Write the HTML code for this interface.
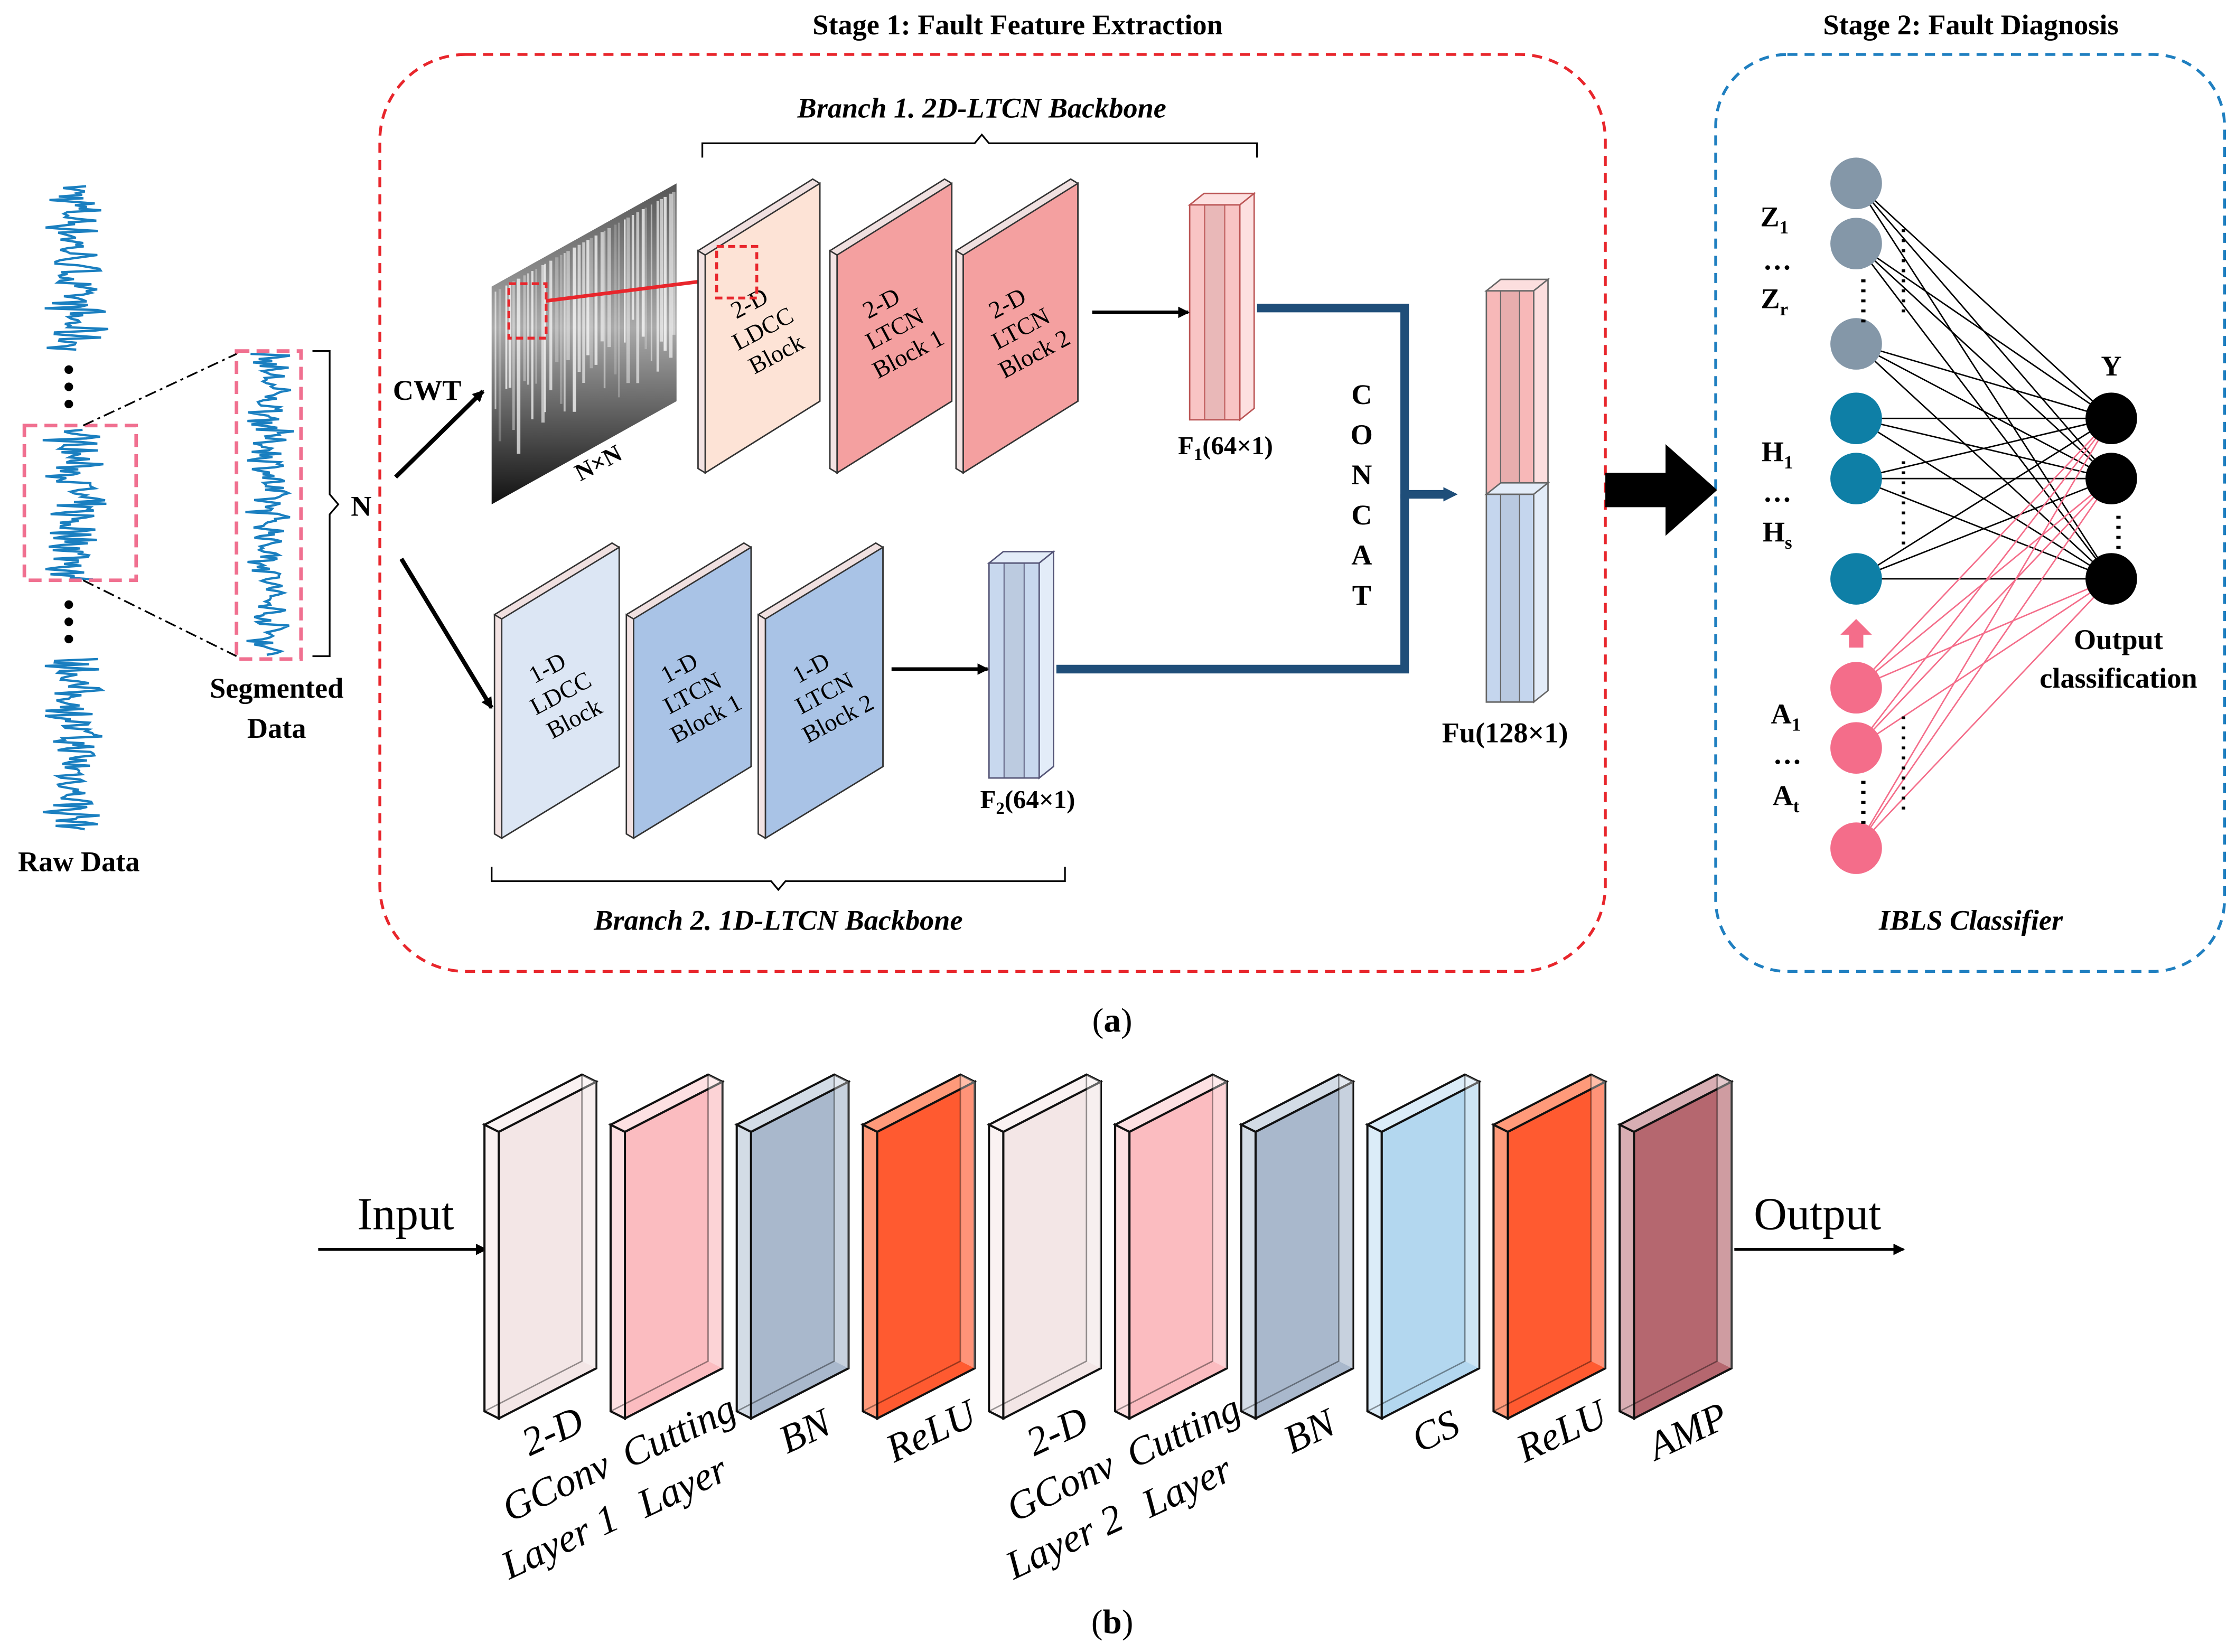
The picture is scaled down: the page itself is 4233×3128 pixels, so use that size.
<!DOCTYPE html>
<html><head><meta charset="utf-8"><style>
html,body{margin:0;padding:0;background:#fff;}
svg{display:block;}
text{font-family:"Liberation Serif",serif;}
</style></head><body>
<svg id="s" xmlns="http://www.w3.org/2000/svg" width="4233" height="3128" viewBox="0 0 1560 1153" preserveAspectRatio="none">
<defs>
<marker id="ar" markerWidth="8" markerHeight="8" refX="7" refY="4" orient="auto" markerUnits="userSpaceOnUse"><path d="M0,0 L8,4 L0,8 z" fill="#000"/></marker>
<marker id="arb" markerWidth="10" markerHeight="10" refX="3" refY="5" orient="auto" markerUnits="userSpaceOnUse"><path d="M0,0 L10,5 L0,10 z" fill="#1f4e79"/></marker>
<linearGradient id="spec" x1="0" y1="0" x2="0" y2="1"><stop offset="0" stop-color="#555"/><stop offset="0.45" stop-color="#aaa"/><stop offset="1" stop-color="#111"/></linearGradient>
</defs>
<rect width="1560" height="1153" fill="#fff"/>
<text x="710" y="24" font-size="20" font-weight="bold" text-anchor="middle">Stage 1: Fault Feature Extraction</text>
<text x="1375" y="24" font-size="20" font-weight="bold" text-anchor="middle">Stage 2: Fault Diagnosis</text>
<rect x="265" y="38" width="855" height="640" rx="60" fill="none" stroke="#e8262c" stroke-width="2" stroke-dasharray="7,5"/>
<rect x="1197" y="38" width="355" height="640" rx="50" fill="none" stroke="#1f7fc0" stroke-width="2" stroke-dasharray="7,5"/>
<g id="waves"></g>
<g fill="#000"><circle cx="48" cy="258" r="3"/><circle cx="48" cy="270" r="3"/><circle cx="48" cy="282" r="3"/><circle cx="48" cy="422" r="3"/><circle cx="48" cy="434" r="3"/><circle cx="48" cy="446" r="3"/></g>
<rect x="17" y="297" width="78" height="108" fill="none" stroke="#f07090" stroke-width="2.5" stroke-dasharray="9,5"/>
<rect x="165" y="245" width="45" height="215" fill="none" stroke="#f07090" stroke-width="2.5" stroke-dasharray="9,5"/>
<line x1="58" y1="297" x2="165" y2="247" stroke="#000" stroke-width="1.2" stroke-dasharray="8,3,2,3"/>
<line x1="58" y1="405" x2="165" y2="458" stroke="#000" stroke-width="1.2" stroke-dasharray="8,3,2,3"/>
<path d="M218,245 H230 V345 L236,352 L230,359 V458 H218" fill="none" stroke="#000" stroke-width="1.2"/>
<text x="252" y="360" font-size="20" font-weight="bold" text-anchor="middle">N</text>
<text x="193" y="487" font-size="20" font-weight="bold" text-anchor="middle">Segmented</text>
<text x="193" y="515" font-size="20" font-weight="bold" text-anchor="middle">Data</text>
<text x="55" y="608" font-size="20" font-weight="bold" text-anchor="middle">Raw Data</text>
<line x1="276" y1="333" x2="337" y2="273" stroke="#000" stroke-width="3" marker-end="url(#ar)"/>
<line x1="280" y1="390" x2="343" y2="494" stroke="#000" stroke-width="3" marker-end="url(#ar)"/>
<text x="298" y="279" font-size="20" font-weight="bold" text-anchor="middle">CWT</text>
<polygon points="343,200 472,128 472,280 343,352" fill="url(#spec)"/>
<g id="streaks"></g>
<text x="420" y="328" font-size="17" font-weight="bold" fill="#000" text-anchor="middle" transform="rotate(-28 420 328)">N×N</text>
<rect x="355" y="198" width="26" height="38" fill="none" stroke="#e8262c" stroke-width="2" stroke-dasharray="5,3"/>
<line x1="381" y1="210" x2="500" y2="195" stroke="#e8262c" stroke-width="2.5"/>
<g id="blocks"></g>
<rect x="500" y="172" width="28" height="36" fill="none" stroke="#e8262c" stroke-width="2" stroke-dasharray="5,3"/>
<line x1="762" y1="218" x2="829" y2="218" stroke="#000" stroke-width="2.5" marker-end="url(#ar)"/>
<line x1="622" y1="467" x2="689" y2="467" stroke="#000" stroke-width="2.5" marker-end="url(#ar)"/>
<text x="855" y="317" font-size="18" font-weight="bold" text-anchor="middle">F<tspan font-size="12" dy="4">1</tspan><tspan dy="-4">(64×1)</tspan></text>
<text x="717" y="564" font-size="18" font-weight="bold" text-anchor="middle">F<tspan font-size="12" dy="4">2</tspan><tspan dy="-4">(64×1)</tspan></text>
<path d="M877,215 H980 V345 H1010" fill="none" stroke="#1f4e79" stroke-width="6" marker-end="url(#arb)"/>
<path d="M737,467 H980 V345" fill="none" stroke="#1f4e79" stroke-width="6"/>
<g font-size="20" font-weight="bold" text-anchor="middle"><text x="950" y="282">C</text><text x="950" y="310">O</text><text x="950" y="338">N</text><text x="950" y="366">C</text><text x="950" y="394">A</text><text x="950" y="422">T</text></g>
<text x="1050" y="518" font-size="20" font-weight="bold" text-anchor="middle">Fu(128×1)</text>
<text x="685" y="82" font-size="20" font-style="italic" font-weight="bold" text-anchor="middle">Branch 1. 2D-LTCN Backbone</text>
<path d="M490,110 V100 H680 L685,94 L690,100 H877 V110" fill="none" stroke="#000" stroke-width="1.2"/>
<text x="543" y="649" font-size="20" font-style="italic" font-weight="bold" text-anchor="middle">Branch 2. 1D-LTCN Backbone</text>
<path d="M343,605 V615 H538 L543,621 L548,615 H743 V605" fill="none" stroke="#000" stroke-width="1.2"/>
<polygon points="1120,330 1162,330 1162,310 1198,342 1162,374 1162,354 1120,354" fill="#000"/>
<g id="net"></g>
<text x="776" y="720" font-size="24" text-anchor="middle">(<tspan font-weight="bold">a</tspan>)</text>
<text x="776" y="1140" font-size="24" text-anchor="middle">(<tspan font-weight="bold">b</tspan>)</text>
<text x="283" y="858" font-size="32" text-anchor="middle">Input</text>
<text x="1268" y="858" font-size="32" text-anchor="middle">Output</text>
<line x1="222" y1="872" x2="339" y2="872" stroke="#000" stroke-width="2" marker-end="url(#ar)"/>
<line x1="1210" y1="872" x2="1328" y2="872" stroke="#000" stroke-width="2" marker-end="url(#ar)"/>
<g id="bblocks"></g>
</svg>
<script>
var NS="http://www.w3.org/2000/svg";
function el(p,t,a,txt){var e=document.createElementNS(NS,t);for(var k in a)e.setAttribute(k,a[k]);if(txt)e.textContent=txt;document.getElementById(p).appendChild(e);return e;}
function P(a){return a.map(function(p){return p[0]+","+p[1];}).join(" ");}
var seed=7;function rnd(){seed=(seed*16807)%2147483647;return seed/2147483647;}
function wave(cx,y0,y1,amp){var d="";for(var y=y0;y<=y1;y+=1.2){var a=amp*(0.4+0.6*rnd());var x=cx+(rnd()-0.5)*2*a;d+=(d?"L":"M")+x.toFixed(1)+","+y.toFixed(1);}el("waves","path",{d:d,fill:"none",stroke:"#1a7fc0","stroke-width":"1.6"});}
wave(52,130,245,24);wave(52,300,405,24);wave(52,460,580,24);wave(188,247,458,18);
for(var i=0;i<40;i++){var x=345+i*3.2+rnd()*2;var yt=200-(x-343)*72/129;var yb=352-(x-343)*72/129;el("streaks","line",{x1:x,y1:yt+5,x2:x,y2:yt+(yb-yt)*(0.5+rnd()*0.35),stroke:"rgba(255,255,255,"+(0.2+rnd()*0.6)+")","stroke-width":1+rnd()*1.5});}
function blk(x,w,yT,yB,slope,fill,lines){var d=5;
el("blocks","polygon",{points:P([[x-d,yT+slope-3],[x+w-d,yT-3],[x+w,yT],[x+w,yB],[x,yB+slope]]),fill:"#f0e0e0",stroke:"#333","stroke-width":"1"});
el("blocks","polygon",{points:P([[x,yT+slope],[x+w,yT],[x+w,yB],[x,yB+slope]]),fill:fill,stroke:"#333","stroke-width":"1"});
el("blocks","polygon",{points:P([[x-d,yT+slope-3],[x,yT+slope],[x,yB+slope],[x-d,yB+slope-3]]),fill:"#f3e3e3",stroke:"#333","stroke-width":"1"});
var cx=x+w/2,cy=(yT+yB+slope)/2;var g=document.createElementNS(NS,"text");g.setAttribute("font-size","17");g.setAttribute("text-anchor","middle");g.setAttribute("transform","rotate(-28 "+cx+" "+cy+")");
lines.forEach(function(l,i){var t=document.createElementNS(NS,"tspan");t.setAttribute("x",cx);t.setAttribute("y",cy+(i-(lines.length-1)/2)*20+6);t.textContent=l;g.appendChild(t);});document.getElementById("blocks").appendChild(g);}
blk(492,80,128,280,50,"#fde3d6",["2-D","LDCC","Block"]);
blk(584,80,128,280,50,"#f4a0a0",["2-D","LTCN","Block 1"]);
blk(672,80,128,280,50,"#f4a0a0",["2-D","LTCN","Block 2"]);
blk(350,82,382,535,50,"#dce6f4",["1-D","LDCC","Block"]);
blk(442,82,382,535,50,"#a9c3e6",["1-D","LTCN","Block 1"]);
blk(534,82,382,535,50,"#a9c3e6",["1-D","LTCN","Block 2"]);
function vec(x,y,w,h,f1,f2,st){var d=10;
el("blocks","polygon",{points:P([[x,y],[x+d,y-8],[x+w+d,y-8],[x+w,y]]),fill:f2,stroke:st,"stroke-width":"1"});
el("blocks","polygon",{points:P([[x+w,y],[x+w+d,y-8],[x+w+d,y+h-8],[x+w,y+h]]),fill:f2,stroke:st,"stroke-width":"1"});
el("blocks","rect",{x:x,y:y,width:w,height:h,fill:f1,stroke:st,"stroke-width":"1"});
el("blocks","rect",{x:x+w*0.3,y:y,width:w*0.4,height:h,fill:"rgba(0,0,0,0.06)",stroke:st,"stroke-width":"0.7"});}
vec(830,143,35,150,"#f8c4c4","#fde0e0","#b55");
vec(690,393,35,150,"#c8d8ee","#e3ecf8","#557");
vec(1037,203,33,142,"#f7b8b8","#fcdede","#666");
vec(1037,345,33,145,"#c5d6ee","#e3ecf8","#666");
var hid=[[128,"#8497a8"],[170,"#8497a8"],[240,"#8497a8"],[292,"#0e7fa6"],[334,"#0e7fa6"],[404,"#0e7fa6"],[480,"#f46d8a"],[522,"#f46d8a"],[592,"#f46d8a"]];
var out=[292,334,404];
hid.forEach(function(h,i){out.forEach(function(o){el("net","line",{x1:1295,y1:h[0],x2:1473,y2:o,stroke:i>=6?"#f46d8a":"#000","stroke-width":"1"});});});
hid.forEach(function(h){el("net","circle",{cx:1295,cy:h[0],r:18,fill:h[1]});});
out.forEach(function(o){el("net","circle",{cx:1473,cy:o,r:18,fill:"#000"});});
[[1300,195,225],[1300,545,578],[1478,360,390]].forEach(function(a){el("net","line",{x1:a[0],y1:a[1],x2:a[0],y2:a[2],stroke:"#000","stroke-width":"3","stroke-dasharray":"2,5"});});
[[160,218],[322,385],[500,570]].forEach(function(a){el("net","line",{x1:1328,y1:a[0],x2:1328,y2:a[1],stroke:"#000","stroke-width":"2.5","stroke-dasharray":"2,5"});});
el("net","polygon",{points:"1295,432 1306,443 1300,443 1300,452 1290,452 1290,443 1284,443",fill:"#f46d8a"});
function lab(x,y,a,b){var t=el("net","text",{x:x,y:y,"font-size":"20","font-weight":"bold","text-anchor":"middle"},a);var s=document.createElementNS(NS,"tspan");s.setAttribute("font-size","13");s.setAttribute("dy","5");s.textContent=b;t.appendChild(s);}
lab(1238,158,"Z","1");lab(1238,215,"Z","r");lab(1240,322,"H","1");lab(1240,378,"H","s");lab(1246,505,"A","1");lab(1246,562,"A","t");
[[1240,188],[1240,350],[1247,533]].forEach(function(p){el("net","text",{x:p[0],y:p[1],"font-size":"20","font-weight":"bold","text-anchor":"middle"},"…");});
el("net","text",{x:1473,y:262,"font-size":"20","font-weight":"bold","text-anchor":"middle"},"Y");
el("net","text",{x:1478,y:453,"font-size":"20","font-weight":"bold","text-anchor":"middle"},"Output");
el("net","text",{x:1478,y:480,"font-size":"20","font-weight":"bold","text-anchor":"middle"},"classification");
el("net","text",{x:1375,y:649,"font-size":"20","font-weight":"bold","font-style":"italic","text-anchor":"middle"},"IBLS Classifier");
var cols=["#f3e6e6","#fbbcc0","#a9b8cc","#ff5a30","#f3e6e6","#fbbcc0","#a9b8cc","#b3d7ef","#ff5a30","#b5676f"];
var lite=["#faf2f2","#fde0e2","#d3dce6","#ff9a7a","#faf2f2","#fde0e2","#d3dce6","#dbecf8","#ff9a7a","#d8aeb3"];
var labs=[["2-D","GConv","Layer 1"],["Cutting","Layer"],["BN"],["ReLU"],["2-D","GConv","Layer 2"],["Cutting","Layer"],["BN"],["CS"],["ReLU"],["AMP"]];
for(var i=0;i<10;i++){var x=348+i*88,w=68,yL=790,yR=755,h=200,dx=-10,dy=-5;
el("bblocks","polygon",{points:P([[x+dx,yL+dy],[x+w+dx,yR+dy],[x+w,yR],[x,yL]]),fill:lite[i],stroke:"#111","stroke-width":"1.5"});
el("bblocks","polygon",{points:P([[x+dx,yL+dy],[x,yL],[x,yL+h],[x+dx,yL+h+dy]]),fill:lite[i],stroke:"#111","stroke-width":"1.5"});
el("bblocks","polygon",{points:P([[x,yL],[x+w,yR],[x+w,yR+h],[x,yL+h]]),fill:cols[i],stroke:"#111","stroke-width":"1.5"});
el("bblocks","polygon",{points:P([[x+w+dx,yR+dy],[x+w,yR],[x+w,yR+h],[x+w+dx,yR+h+dy]]),fill:"rgba(255,255,255,0.35)",stroke:"none"});
el("bblocks","path",{d:"M"+(x+w+dx)+","+(yR+dy)+" V"+(yR+h+dy)+" L"+(x+dx)+","+(yL+h+dy),fill:"none",stroke:"rgba(0,0,0,0.4)","stroke-width":"1"});
var L=labs[i];var cx=x+w/2+4,cy=1000;var g=document.createElementNS(NS,"text");g.setAttribute("font-size","28");g.setAttribute("font-style","italic");g.setAttribute("text-anchor","middle");g.setAttribute("transform","rotate(-25 "+cx+" "+cy+")");
L.forEach(function(l,j){var t=document.createElementNS(NS,"tspan");t.setAttribute("x",cx-j*14);t.setAttribute("y",cy+8+j*36);t.textContent=l;g.appendChild(t);});document.getElementById("bblocks").appendChild(g);}
</script>
</body></html>
